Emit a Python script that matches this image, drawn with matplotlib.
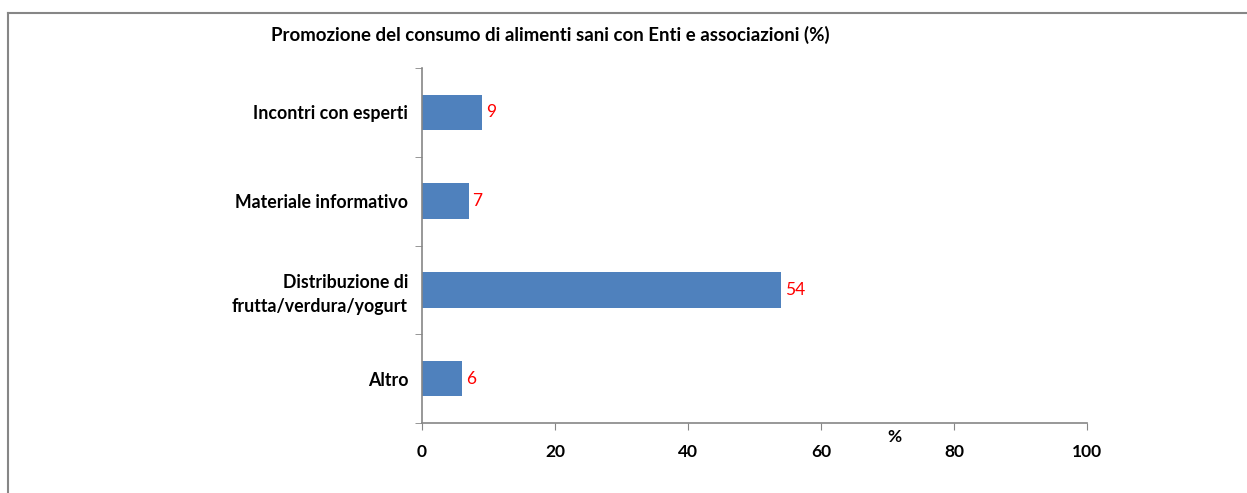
import matplotlib.pyplot as plt
from matplotlib.lines import Line2D

# Dati
categorie = ['Incontri con esperti', 'Materiale informativo',
             'Distribuzione di\nfrutta/verdura/yogurt', 'Altro']
valori = [9, 7, 54, 6]
xticks = [0, 20, 40, 60, 80, 100]

plt.rcParams['font.family'] = ['Lato', 'DejaVu Sans']

fig = plt.figure(figsize=(12.47, 4.93), dpi=100)
ax = fig.add_axes([0.3384, 0.142, 0.5333, 0.720])

grigio = '#868686'
pos = list(range(len(categorie)))[::-1]
ax.barh(pos, valori, height=0.4, color='#4F81BD')

for p, v in zip(pos, valori):
    ax.text(v + 0.6, p, str(v), color='red', fontsize=12.5, va='center', ha='left')

ax.set_xlim(0, 100)
ax.set_ylim(-0.5, len(categorie) - 0.5)
ax.set_xticks(xticks)
ax.set_xticklabels([str(t) for t in xticks], fontweight='bold', fontsize=12.5)
ax.tick_params(axis='x', length=5, color=grigio, pad=10)

# etichette categorie senza tacche, tacche ai confini
ax.set_yticks(pos)
ax.set_yticklabels(categorie, fontweight='bold', fontsize=12.8, linespacing=1.5)
ax.tick_params(axis='y', length=0, pad=10)
ax.set_yticks([i - 0.5 for i in range(len(categorie) + 1)], minor=True)
ax.tick_params(axis='y', which='minor', length=5, color=grigio)

for s in ['top', 'right']:
    ax.spines[s].set_visible(False)
for s in ['left', 'bottom']:
    ax.spines[s].set_color(grigio)
    ax.spines[s].set_linewidth(1.2)

ax.annotate('%', xy=(71, -0.5), xycoords='data', xytext=(0, -4), textcoords='offset points',
            fontweight='bold', fontsize=12.5, ha='center', va='top')

fig.text(0.441, 0.929, 'Promozione del consumo di alimenti sani con Enti e associazioni (%)',
         ha='center', va='center', fontweight='bold', fontsize=13.4)

# cornice
fig.add_artist(Line2D([8 / 1247, 8 / 1247], [0, 1 - 12.5 / 493], color=grigio, lw=1.5,
                      transform=fig.transFigure))
fig.add_artist(Line2D([8 / 1247, 1], [1 - 12.5 / 493, 1 - 12.5 / 493], color=grigio, lw=1.5,
                      transform=fig.transFigure))

fig.savefig('out.png', dpi=100)
